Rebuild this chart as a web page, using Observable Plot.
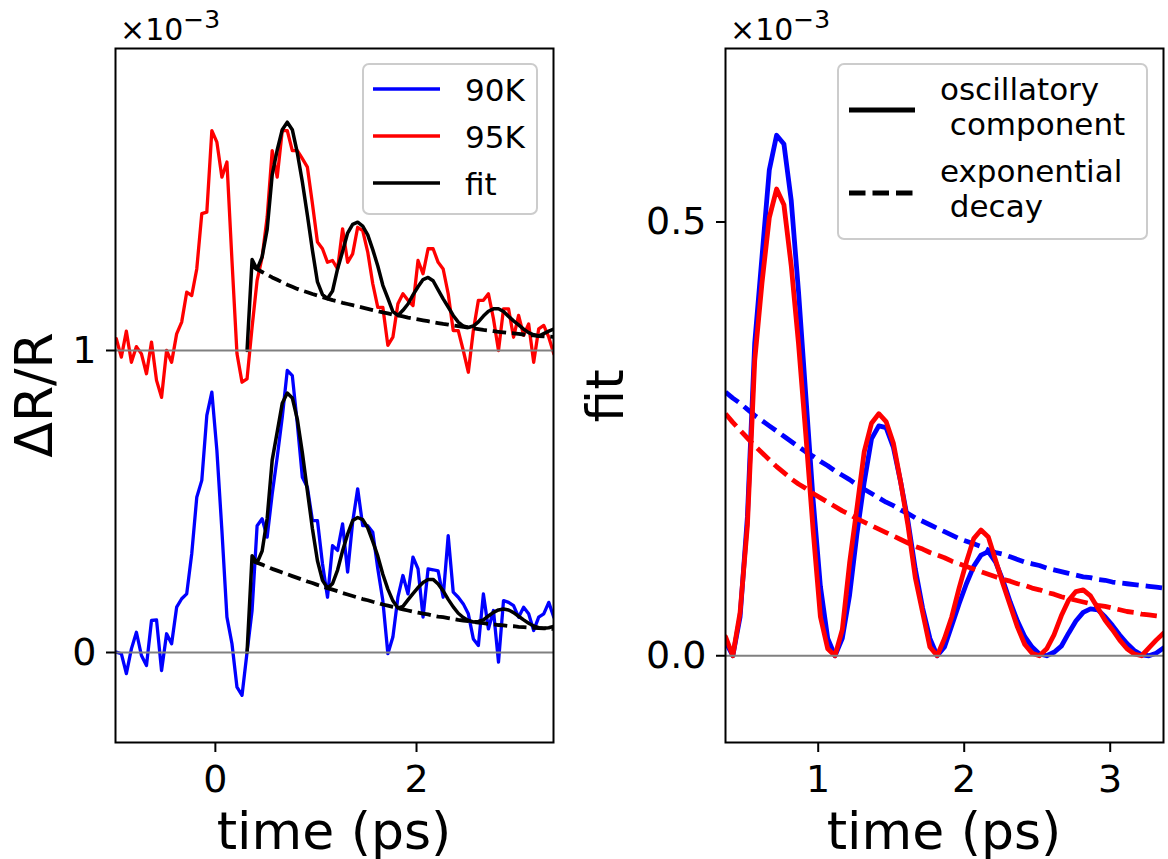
<!DOCTYPE html>
<html><head><meta charset="utf-8">
<script src="https://cdn.jsdelivr.net/npm/d3@7"></script>
<script src="https://cdn.jsdelivr.net/npm/@observablehq/plot@0.6"></script>
<style>
body{margin:0;background:#fff;}
#wrap{display:flex;width:1168px;height:859px;}
#wrap svg{display:block;}
</style></head><body><div id="wrap"></div>
<script>
// ---- measured data (ΔR/R in units of 1e-3, time in ps) ----
const time = [
 -0.985,-0.935,-0.885,-0.835,-0.785,-0.735,-0.685,-0.635,-0.585,-0.535,
 -0.485,-0.435,-0.385,-0.335,-0.285,-0.235,-0.185,-0.135,-0.085,-0.035,
 0.015,0.065,0.115,0.165,0.215,0.265,0.315,0.365,0.415,0.465,
 0.515,0.565,0.615,0.665,0.715,0.765,0.815,0.865,0.915,0.965,
 1.015,1.065,1.115,1.165,1.215,1.265,1.315,1.365,1.415,1.465,
 1.515,1.565,1.615,1.665,1.715,1.765,1.815,1.865,1.915,1.965,
 2.015,2.065,2.115,2.165,2.215,2.265,2.315,2.365,2.415,2.465,
 2.515,2.565,2.615,2.665,2.715,2.765,2.815,2.865,2.915,2.965,
 3.015,3.065,3.115,3.165,3.215,3.265,3.315,3.365];
const dr90K = [
 0.001,-0.004,-0.07,0.012,0.067,-0.01,-0.043,0.106,0.108,-0.06,
 0.062,0.029,0.15,0.178,0.194,0.327,0.514,0.57,0.785,0.862,
 0.669,0.404,0.117,0.029,-0.115,-0.142,0.001,0.139,0.42,0.443,
 0.382,0.525,0.647,0.779,0.934,0.917,0.757,0.58,0.547,0.437,
 0.437,0.294,0.183,0.354,0.338,0.426,0.266,0.432,0.542,0.42,
 0.42,0.398,0.277,0.172,-0.004,0.051,0.183,0.255,0.194,0.316,
 0.277,0.117,0.277,0.274,0.27,0.183,0.387,0.2,0.183,0.161,
 0.128,0.045,0.023,0.194,0.078,0.139,-0.032,0.172,0.166,0.155,
 0.117,0.15,0.128,0.073,0.117,0.128,0.166,0.117];
const dr95K = [
 0.039,-0.022,0.064,-0.039,0.013,-0.011,-0.077,0.028,-0.099,-0.155,
 0,-0.039,0.055,0.094,0.193,0.182,0.27,0.453,0.458,0.728,
 0.69,0.574,0.624,0.298,-0.011,-0.105,-0.094,0.077,0.232,0.309,
 0.442,0.662,0.574,0.728,0.728,0.662,0.662,0.635,0.607,0.486,
 0.359,0.337,0.292,0.298,0.27,0.403,0.292,0.32,0.408,0.397,
 0.326,0.221,0.143,0.143,0.017,0.044,0.155,0.188,0.166,0.149,
 0.298,0.254,0.337,0.337,0.292,0.27,0.188,0.066,0.066,0,
 -0.072,0.066,0.166,0.166,0.188,0.105,0,0.138,0.138,0.044,
 0.116,0.05,0.088,-0.039,0.072,0.083,0.044,-0.011];
const offset95K = 1;          // 95K trace shifted up by 1e-3
const fitStart = 0.315;       // fit begins at zero here
const fitTime = [
 0.365,0.415,0.465,0.515,0.565,0.615,0.665,0.715,0.765,0.815,
 0.865,0.915,0.965,1.015,1.065,1.115,1.165,1.215,1.265,1.315,
 1.365,1.415,1.465,1.515,1.565,1.615,1.665,1.715,1.765,1.815,
 1.865,1.915,1.965,2.015,2.065,2.115,2.165,2.215,2.265,2.315,
 2.365,2.415,2.465,2.515,2.565,2.615,2.665,2.715,2.765,2.815,
 2.865,2.915,2.965,3.015,3.065,3.115,3.165,3.215,3.265,3.315,3.365];
const osc90K = [
 0.016,0.0,0.045,0.16,0.36,0.46,0.56,0.60,0.59,0.525,
 0.42,0.30,0.18,0.08,0.02,0.0,0.02,0.07,0.14,0.2,
 0.25,0.265,0.263,0.24,0.2,0.155,0.1,0.055,0.02,0.0,
 0.01,0.035,0.06,0.083,0.103,0.116,0.12,0.108,0.087,0.062,
 0.04,0.022,0.01,0.002,0.0,0.004,0.011,0.026,0.04,0.05,
 0.054,0.053,0.045,0.035,0.024,0.014,0.006,0.001,0.0,0.003,0.009];
const osc95K = [
 0.022,0.0,0.05,0.15,0.34,0.43,0.505,0.538,0.52,0.45,
 0.36,0.255,0.145,0.045,0.008,0.0,0.03,0.107,0.17,0.235,
 0.268,0.279,0.27,0.245,0.2,0.15,0.09,0.05,0.01,0.0,
 0.02,0.045,0.078,0.108,0.135,0.145,0.137,0.11,0.083,0.058,
 0.033,0.013,0.003,0.0,0.008,0.024,0.046,0.064,0.074,0.076,
 0.069,0.055,0.041,0.03,0.018,0.008,0.002,0.0,0.009,0.018,0.026];
const decay90K = [
 0.304,0.297,0.291,0.284,0.277,0.271,0.265,0.259,0.253,0.247,
 0.241,0.235,0.23,0.224,0.219,0.213,0.208,0.203,0.197,0.192,
 0.187,0.182,0.177,0.173,0.168,0.164,0.159,0.155,0.151,0.147,
 0.143,0.139,0.135,0.132,0.129,0.126,0.122,0.119,0.117,0.114,
 0.111,0.108,0.106,0.104,0.101,0.099,0.097,0.095,0.093,0.091,
 0.09,0.088,0.087,0.085,0.084,0.083,0.082,0.081,0.08,0.079,0.078];
const decay95K = [
 0.279,0.269,0.26,0.251,0.242,0.234,0.226,0.218,0.211,0.204,
 0.198,0.193,0.187,0.182,0.177,0.172,0.167,0.163,0.158,0.154,
 0.15,0.146,0.142,0.138,0.134,0.13,0.126,0.123,0.119,0.116,
 0.113,0.109,0.106,0.103,0.1,0.097,0.094,0.091,0.088,0.086,
 0.083,0.081,0.078,0.076,0.073,0.071,0.068,0.066,0.064,0.062,
 0.06,0.058,0.057,0.055,0.053,0.051,0.05,0.048,0.047,0.046,0.045];
const leftXTicks = [0, 2];
const leftYTicks = [0, 1];
const rightXTicks = [1, 2, 3];
const rightYTicks = [0, 0.5];
const leftLegend = ["90K", "95K", "fit"];
const rightLegend = [["oscillatory", "\u00a0component"], ["exponential", "\u00a0decay"]];

// ---- tables ----
const FONT = "DejaVu Sans";
const BLUE = "#0000ff", RED = "#ff0000";
const LEG = 31;
const data90 = time.map((t, i) => ({t, v: dr90K[i]}));
const data95 = time.map((t, i) => ({t, v: dr95K[i] + offset95K}));
const fit90 = [{t: fitStart, v: 0}, ...fitTime.map((t, i) => ({t, v: decay90K[i] + osc90K[i]}))];
const fit95 = [{t: fitStart, v: offset95K}, ...fitTime.map((t, i) => ({t, v: decay95K[i] + osc95K[i] + offset95K}))];
const exp90L = fitTime.map((t, i) => ({t, v: decay90K[i]}));
const exp95L = fitTime.map((t, i) => ({t, v: decay95K[i] + offset95K}));
const osc90 = fitTime.map((t, i) => ({t, v: osc90K[i]}));
const osc95 = fitTime.map((t, i) => ({t, v: osc95K[i]}));
const exp90 = fitTime.map((t, i) => ({t, v: decay90K[i]}));
const exp95 = fitTime.map((t, i) => ({t, v: decay95K[i]}));

const W = 584, H = 859;
const axisOpts = {tickSize: 9, fontSize: 38, strokeWidth: 2, label: null};

const left = Plot.plot({
  width: W, height: H,
  marginLeft: 115, marginRight: 31, marginTop: 48, marginBottom: 117,
  style: {fontFamily: FONT, background: "white", color: "black", overflow: "visible"},
  x: {domain: [-0.993, 3.362]},
  y: {domain: [-0.298, 2.0]},
  marks: [
    Plot.line(data90, {x: "t", y: "v", stroke: BLUE, strokeWidth: 3.3, clip: true}),
    Plot.line(data95, {x: "t", y: "v", stroke: RED, strokeWidth: 3.3, clip: true}),
    Plot.line(fit90, {x: "t", y: "v", stroke: "black", strokeWidth: 3.5, clip: true}),
    Plot.line(fit95, {x: "t", y: "v", stroke: "black", strokeWidth: 3.5, clip: true}),
    Plot.line(exp90L, {x: "t", y: "v", stroke: "black", strokeWidth: 3.8, strokeDasharray: "13.5,5.8", strokeLinecap: "butt", clip: true}),
    Plot.line(exp95L, {x: "t", y: "v", stroke: "black", strokeWidth: 3.8, strokeDasharray: "13.5,5.8", strokeLinecap: "butt", clip: true}),
    Plot.ruleY([0, offset95K], {stroke: "gray", strokeWidth: 2}),
    Plot.axisX({...axisOpts, ticks: leftXTicks, tickSize: 10, tickPadding: 13, tickFormat: d => String(d)}),
    Plot.axisY({...axisOpts, ticks: leftYTicks, tickPadding: 10, tickFormat: d => String(d)}),
    Plot.frame({stroke: "black", strokeWidth: 2})
  ]
});

const right = Plot.plot({
  width: W, height: H,
  marginLeft: 141, marginRight: 5, marginTop: 48, marginBottom: 117,
  style: {fontFamily: FONT, background: "white", color: "black", overflow: "visible"},
  x: {domain: [0.365, 3.365]},
  y: {domain: [-0.1, 0.7]},
  marks: [
    Plot.line(osc90, {x: "t", y: "v", stroke: BLUE, strokeWidth: 4.8, clip: true}),
    Plot.line(exp90, {x: "t", y: "v", stroke: BLUE, strokeWidth: 4.8, strokeDasharray: "16.5,7", strokeLinecap: "butt", clip: true}),
    Plot.line(osc95, {x: "t", y: "v", stroke: RED, strokeWidth: 4.8, clip: true}),
    Plot.line(exp95, {x: "t", y: "v", stroke: RED, strokeWidth: 4.8, strokeDasharray: "16.5,7", strokeLinecap: "butt", clip: true}),
    Plot.ruleY([0], {stroke: "gray", strokeWidth: 2}),
    Plot.axisX({...axisOpts, ticks: rightXTicks, tickSize: 10, tickPadding: 13, tickFormat: d => String(d)}),
    Plot.axisY({...axisOpts, ticks: rightYTicks, tickPadding: 10, tickFormat: d3.format(".1f")}),
    Plot.frame({stroke: "black", strokeWidth: 2})
  ]
});

function addText(svg, txt, x, y, size, opts = {}) {
  const t = d3.select(svg).append("text")
    .attr("x", x).attr("y", y)
    .attr("font-family", FONT).attr("font-size", size)
    .attr("fill", "black")
    .attr("text-anchor", opts.anchor || "start")
    .text(txt);
  if (opts.transform) t.attr("transform", opts.transform).attr("x", 0).attr("y", 0);
  return t;
}
function offsetText(svg, x) {
  const t = d3.select(svg).append("text")
    .attr("x", x).attr("y", 40).attr("text-anchor", "start")
    .attr("font-family", FONT).attr("font-size", 30).attr("fill", "black");
  t.append("tspan").text("\u00d710");
  t.append("tspan").attr("font-size", 25).attr("dy", -12).text("\u22123");
}

// left labels
addText(left, "time (ps)", 334, 849, 52, {anchor: "middle"});
addText(left, "\u0394R/R", 0, 0, 52, {anchor: "middle", transform: "translate(52,395) rotate(-90)"});
offsetText(left, 120);
// left legend
{
  const g = d3.select(left).append("g").attr("text-anchor", "start");
  g.append("rect").attr("x", 363).attr("y", 64).attr("width", 174).attr("height", 150)
    .attr("rx", 6).attr("fill", "white").attr("fill-opacity", 0.8)
    .attr("stroke", "#cccccc").attr("stroke-width", 2);
  const cols = [BLUE, RED, "black"];
  leftLegend.forEach((lab, i) => {
    const y = 89 + 47 * i;
    g.append("line").attr("x1", 373).attr("x2", 440).attr("y1", y).attr("y2", y)
      .attr("stroke", cols[i]).attr("stroke-width", 3.5);
    g.append("text").attr("x", 465).attr("y", y + 12).attr("font-family", FONT)
      .attr("text-anchor", "start")
      .attr("font-size", LEG).attr("fill", "black").text(lab);
  });
}

// right labels
addText(right, "time (ps)", 360, 849, 52, {anchor: "middle"});
addText(right, "fit", 0, 0, 52, {anchor: "middle", transform: "translate(39,396) rotate(-90)"});
offsetText(right, 146);
{
  const g = d3.select(right).append("g").attr("text-anchor", "start");
  g.append("rect").attr("x", 254).attr("y", 64).attr("width", 309).attr("height", 175)
    .attr("rx", 6).attr("fill", "white").attr("fill-opacity", 0.8)
    .attr("stroke", "#cccccc").attr("stroke-width", 2);
  g.append("line").attr("x1", 265).attr("x2", 331).attr("y1", 110).attr("y2", 110)
    .attr("stroke", "black").attr("stroke-width", 4.8);
  g.append("line").attr("x1", 265).attr("x2", 331).attr("y1", 193).attr("y2", 193)
    .attr("stroke", "black").attr("stroke-width", 4.8).attr("stroke-dasharray", "16.5,7");
  const ys = [[100, 135], [182, 217]];
  rightLegend.forEach((lines, i) => {
    lines.forEach((ln, j) => {
      g.append("text").attr("x", 356).attr("y", ys[i][j]).attr("font-family", FONT)
        .attr("text-anchor", "start")
        .attr("font-size", LEG).attr("fill", "black").text(ln);
    });
  });
}

document.getElementById("wrap").append(left, right);
</script>
</body></html>
